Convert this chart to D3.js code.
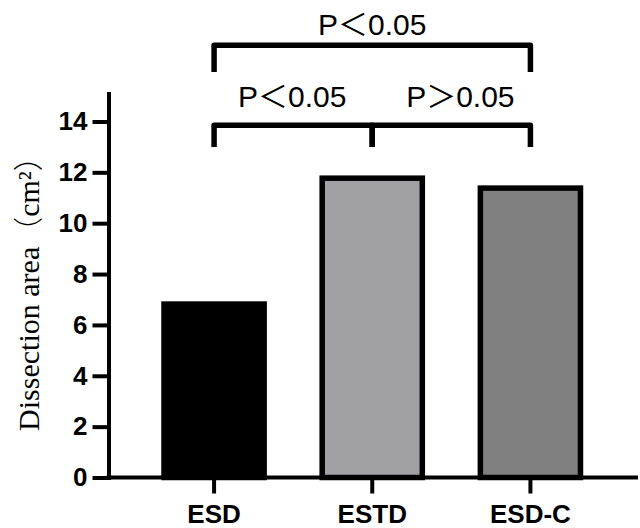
<!DOCTYPE html>
<html><head><meta charset="utf-8">
<script src="https://cdn.jsdelivr.net/npm/d3@7"></script>
<style>
html,body{margin:0;padding:0;background:#fff;}
svg{display:block;}
</style></head>
<body>
<svg id="chart" width="640" height="528"></svg>
<script>
const categories = ["ESD", "ESTD", "ESD-C"];
const values = [6.82, 11.77, 11.38];
const fills = ["#000000", "#a1a0a5", "#808080"];
const yTicks = [0, 2, 4, 6, 8, 10, 12, 14];
const yLabelMain = "Dissection area";
const yLabelUnit = ["（", "cm²", "）"];
// comparisons: [from, to, label, bracket level, leg bottom level, text level]
const comparisons = [
  ["ESD", "ESD-C", "P＜0.05", 17.0, 15.95, 17.4],
  ["ESD", "ESTD", "P＜0.05", 13.85, 13.0, 14.55],
  ["ESTD", "ESD-C", "P＞0.05", 13.85, 13.0, 14.55]
];

const svg = d3.select("#chart");
const x = d3.scaleBand().domain(categories).range([108.5, 636]).paddingInner(0.367).paddingOuter(0.351);
const y = d3.scaleLinear().domain([0, 15.1]).range([477.5, 93.5]);

// bars
svg.append("g").selectAll("rect").data(categories).join("rect")
  .attr("x", d => x(d))
  .attr("width", x.bandwidth())
  .attr("y", (d, i) => y(values[i]))
  .attr("height", (d, i) => y(0) - y(values[i]))
  .attr("fill", (d, i) => fills[i])
  .attr("stroke", "#000")
  .attr("stroke-width", 5.5);

// y axis
const yAxis = svg.append("g").attr("transform", `translate(${x.range()[0]},0)`)
  .call(d3.axisLeft(y).tickValues(yTicks).tickSize(16).tickSizeOuter(0).tickPadding(5));
yAxis.select(".domain").attr("stroke-width", 4).attr("stroke-linecap", "square");
yAxis.selectAll(".tick line").attr("stroke-width", 4);
yAxis.selectAll(".tick text").attr("font-family", "Liberation Sans, Arial, sans-serif")
  .attr("font-weight", "bold").attr("font-size", 26).attr("fill", "#000");

// x axis
const xAxis = svg.append("g").attr("transform", `translate(0,${y(0)})`)
  .call(d3.axisBottom(x).tickSize(16).tickSizeOuter(0).tickPadding(11));
xAxis.select(".domain").attr("stroke-width", 4).attr("stroke-linecap", "square")
  .attr("d", `M${x.range()[0]},0H${x.range()[1]}`);
xAxis.selectAll(".tick line").attr("stroke-width", 4);
xAxis.selectAll(".tick text").attr("font-family", "Liberation Sans, Arial, sans-serif")
  .attr("font-weight", "bold").attr("font-size", 26).attr("fill", "#000");

// y label
const yl = svg.append("text")
  .attr("transform", `translate(39,286) rotate(-90)`)
  .attr("text-anchor", "middle")
  .attr("font-family", "Liberation Serif, Times New Roman, serif")
  .attr("font-size", 30)
  .attr("fill", "#000");
yl.append("tspan").text(yLabelMain);
yl.append("tspan").attr("font-family", "Noto Sans CJK SC").attr("font-weight", 300).text(yLabelUnit[0]);
yl.append("tspan").text(yLabelUnit[1]);
yl.append("tspan").attr("font-family", "Noto Sans CJK SC").attr("font-weight", 300).text(yLabelUnit[2]);

// significance brackets
const cx = d => x(d) + x.bandwidth() / 2;
const labelDx = [0, -1, 9];
const ann = svg.append("g");
comparisons.forEach((c, i) => {
  const x1 = cx(c[0]), x2 = cx(c[1]);
  const yb = y(c[3]), yl2 = y(c[4]);
  ann.append("path")
    .attr("d", `M${x1},${yl2}V${yb}H${x2}V${yl2}`)
    .attr("fill", "none").attr("stroke", "#000").attr("stroke-width", 5.5)
    .attr("stroke-linejoin", "round");
  ann.append("text")
    .attr("x", (x1 + x2) / 2 + labelDx[i]).attr("y", y(c[5]))
    .attr("text-anchor", "middle")
    .attr("font-family", "Liberation Sans, Arial, Noto Sans CJK SC, sans-serif")
    .attr("font-size", 30).attr("fill", "#000")
    .text(c[2]);
});
</script>
</body></html>
